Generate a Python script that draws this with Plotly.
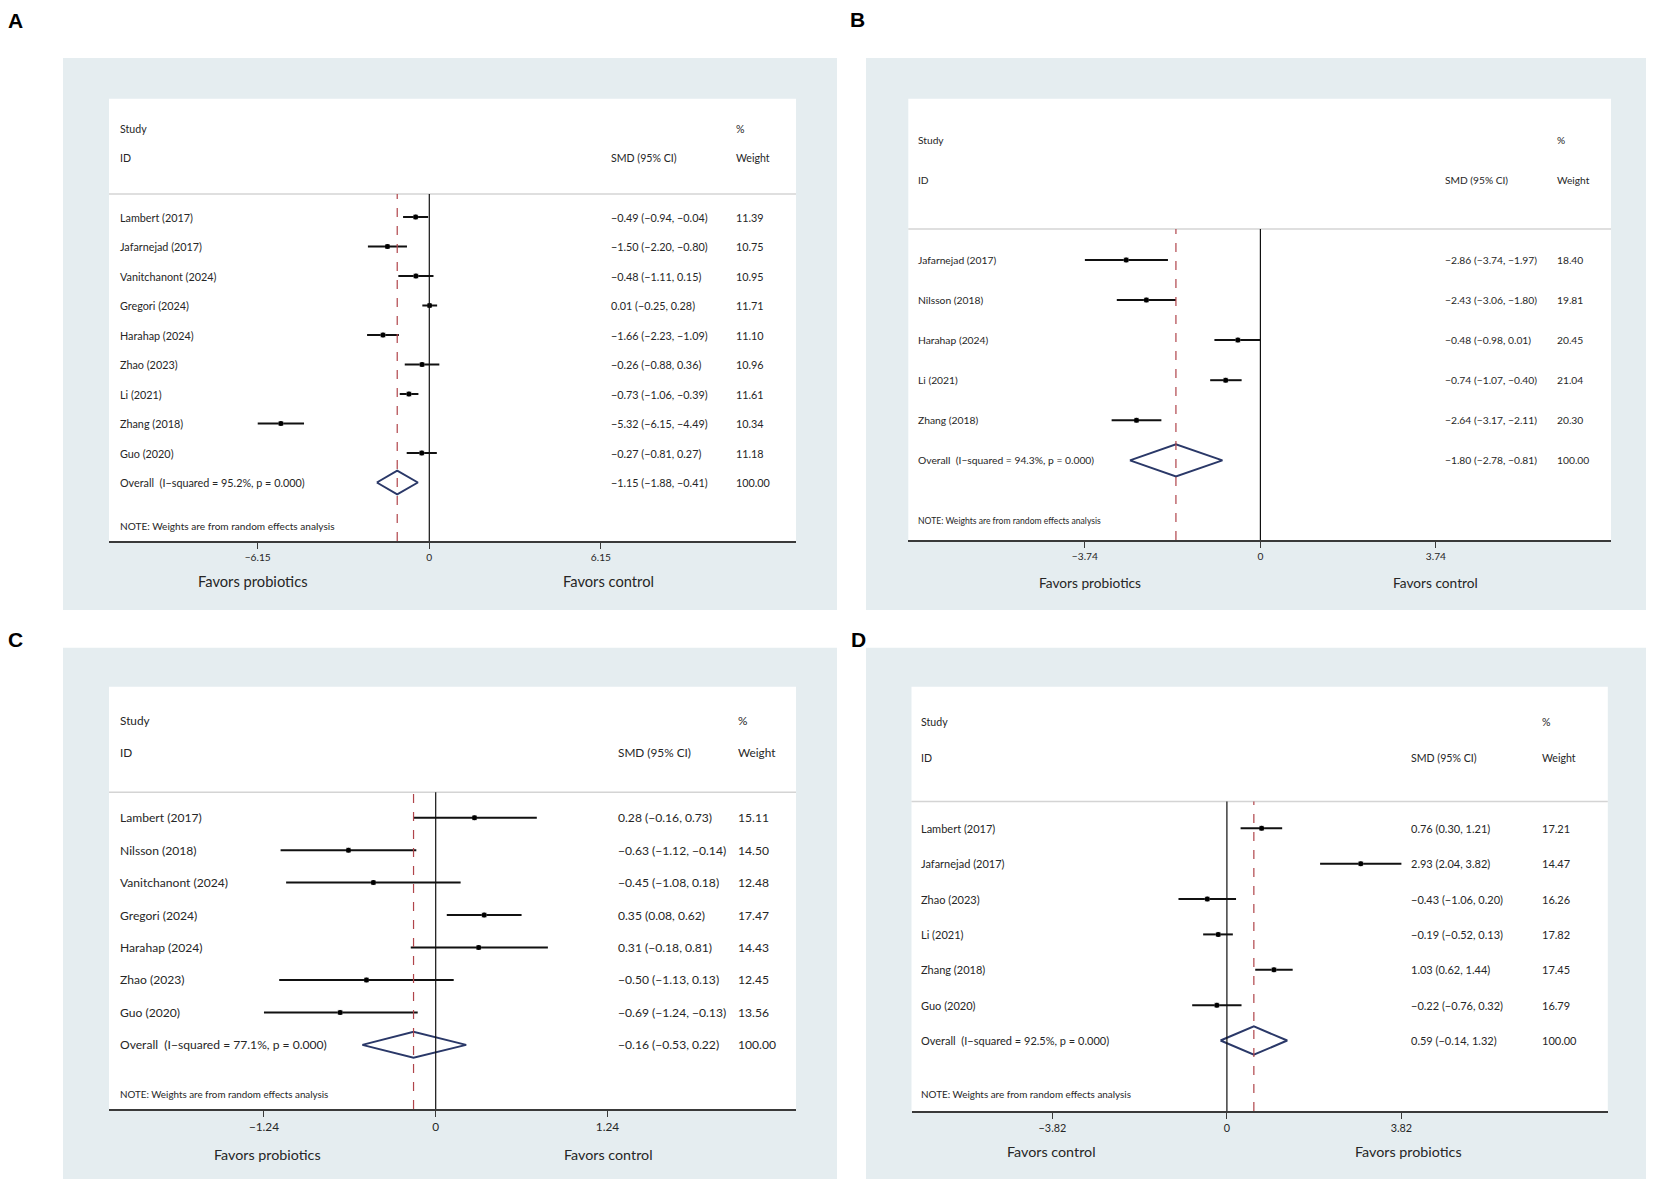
import plotly.graph_objects as go

W, H = 1654, 1185
OFF = 8  # default body margin of the html page
FW, FH = W - OFF, H - OFF

# ---------------- data ----------------
A_studies = ["Lambert (2017)", "Jafarnejad (2017)", "Vanitchanont (2024)", "Gregori (2024)",
             "Harahap (2024)", "Zhao (2023)", "Li (2021)", "Zhang (2018)", "Guo (2020)"]
A_smd = [-0.49, -1.50, -0.48, 0.01, -1.66, -0.26, -0.73, -5.32, -0.27]
A_lo = [-0.94, -2.20, -1.11, -0.25, -2.23, -0.88, -1.06, -6.15, -0.81]
A_hi = [-0.04, -0.80, 0.15, 0.28, -1.09, 0.36, -0.39, -4.49, 0.27]
A_w = [11.39, 10.75, 10.95, 11.71, 11.10, 10.96, 11.61, 10.34, 11.18]
A_overall = [-1.15, -1.88, -0.41]
A_i2 = "95.2%"
A_ticks = [-6.15, 0, 6.15]
A_favors = ["Favors probiotics", "Favors control"]

B_studies = ["Jafarnejad (2017)", "Nilsson (2018)", "Harahap (2024)", "Li (2021)", "Zhang (2018)"]
B_smd = [-2.86, -2.43, -0.48, -0.74, -2.64]
B_lo = [-3.74, -3.06, -0.98, -1.07, -3.17]
B_hi = [-1.97, -1.80, 0.01, -0.40, -2.11]
B_w = [18.40, 19.81, 20.45, 21.04, 20.30]
B_overall = [-1.80, -2.78, -0.81]
B_i2 = "94.3%"
B_ticks = [-3.74, 0, 3.74]
B_favors = ["Favors probiotics", "Favors control"]

C_studies = ["Lambert (2017)", "Nilsson (2018)", "Vanitchanont (2024)", "Gregori (2024)",
             "Harahap (2024)", "Zhao (2023)", "Guo (2020)"]
C_smd = [0.28, -0.63, -0.45, 0.35, 0.31, -0.50, -0.69]
C_lo = [-0.16, -1.12, -1.08, 0.08, -0.18, -1.13, -1.24]
C_hi = [0.73, -0.14, 0.18, 0.62, 0.81, 0.13, -0.13]
C_w = [15.11, 14.50, 12.48, 17.47, 14.43, 12.45, 13.56]
C_overall = [-0.16, -0.53, 0.22]
C_i2 = "77.1%"
C_ticks = [-1.24, 0, 1.24]
C_favors = ["Favors probiotics", "Favors control"]

D_studies = ["Lambert (2017)", "Jafarnejad (2017)", "Zhao (2023)", "Li (2021)", "Zhang (2018)", "Guo (2020)"]
D_smd = [0.76, 2.93, -0.43, -0.19, 1.03, -0.22]
D_lo = [0.30, 2.04, -1.06, -0.52, 0.62, -0.76]
D_hi = [1.21, 3.82, 0.20, 0.13, 1.44, 0.32]
D_w = [17.21, 14.47, 16.26, 17.82, 17.45, 16.79]
D_overall = [0.59, -0.14, 1.32]
D_i2 = "92.5%"
D_ticks = [-3.82, 0, 3.82]
D_favors = ["Favors control", "Favors probiotics"]

# ---------------- layout geometry (pixels in the final page) ----------------
FS = 1.0  # font scale
panels = [
    dict(letter="A", lx=15, ly=21, bg=(63, 58, 837, 610), box=(109, 98.7, 796, 541),
         zero=429.3, ppu=27.9, row0=217, sp=29.5, sep=194, study_y=129, id_y=158,
         note_y=526, fav_y=581, fav_x=(253, 608), tx=117.5, smd_x=609, w_x=734,
         f_row=10.8, f_head=10.6, f_note=10.1, f_tick=10.2, f_fav=14.7,
         studies=A_studies, smd=A_smd, lo=A_lo, hi=A_hi, w=A_w, ov=A_overall, i2=A_i2,
         ticks=A_ticks, favors=A_favors),
    dict(letter="B", lx=857, ly=19, bg=(866, 58, 1648, 610), box=(908.3, 98.7, 1611, 540),
         zero=1260.4, ppu=46.93, row0=259.9, sp=40.1, sep=229, study_y=139.7, id_y=179.5,
         note_y=520.5, fav_y=583, fav_x=(1090, 1435.4), tx=916, smd_x=1443.4, w_x=1554.6,
         f_row=10.3, f_head=10.2, f_note=8.6, f_tick=10.2, f_fav=13.7,
         studies=B_studies, smd=B_smd, lo=B_lo, hi=B_hi, w=B_w, ov=B_overall, i2=B_i2,
         ticks=B_ticks, favors=B_favors),
    dict(letter="C", lx=16, ly=639, bg=(63, 647.7, 837, 1179), box=(109, 686.8, 796, 1109),
         zero=435.7, ppu=138.5, row0=817.7, sp=32.45, sep=792.3, study_y=720, id_y=752.4,
         note_y=1094, fav_y=1154, fav_x=(267.3, 608.8), tx=117.5, smd_x=615.7, w_x=735.8,
         f_row=12.1, f_head=11.8, f_note=9.8, f_tick=11.8, f_fav=14.3,
         studies=C_studies, smd=C_smd, lo=C_lo, hi=C_hi, w=C_w, ov=C_overall, i2=C_i2,
         ticks=C_ticks, favors=C_favors),
    dict(letter="D", lx=858, ly=639, bg=(866, 647.7, 1648, 1179), box=(911.5, 686.8, 1607.8, 1111),
         zero=1226.9, ppu=45.68, row0=828.3, sp=35.37, sep=801.4, study_y=722.4, id_y=758.1,
         note_y=1093.6, fav_y=1151.7, fav_x=(1051.9, 1408.3), tx=918.9, smd_x=1409.4, w_x=1539.7,
         f_row=11, f_head=10.6, f_note=9.9, f_tick=10.8, f_fav=14.3,
         studies=D_studies, smd=D_smd, lo=D_lo, hi=D_hi, w=D_w, ov=D_overall, i2=D_i2,
         ticks=D_ticks, favors=D_favors),
]

FONT = "Lato, Open Sans, sans-serif"
BG = "#e5edf0"
TXT = "#262626"


def px(x):
    return (x - OFF) / FW


def py(y):
    return 1 - (y - OFF) / FH


def fmt(v):
    return f"{v:.2f}".replace("-", "\u2212")


def fmt_tick(v):
    if v == 0:
        return "0"
    return f"{v:.2f}".replace("-", "\u2212")


fig = go.Figure()
shapes = []
annotations = []
layout_axes = {}


def ann(text, x, y, yref, size, xanchor="left"):
    annotations.append(dict(text=text, x=x, y=y, xref="paper", yref=yref,
                            xanchor=xanchor, yanchor="middle", showarrow=False,
                            font=dict(family=FONT, size=size * FS, color=TXT)))


for k, p in enumerate(panels, start=1):
    xa = "x" if k == 1 else f"x{k}"
    ya = "y" if k == 1 else f"y{k}"
    xname = "xaxis" if k == 1 else f"xaxis{k}"
    yname = "yaxis" if k == 1 else f"yaxis{k}"
    n = len(p["studies"])
    L, T, R, Bt = p["box"]

    # axes
    xr = [(L - p["zero"]) / p["ppu"], (R - p["zero"]) / p["ppu"]]
    yr = [(Bt - p["row0"]) / p["sp"], (T - p["row0"]) / p["sp"]]
    layout_axes[xname] = dict(
        domain=[px(L), px(R)], range=xr, anchor=ya, showgrid=False, zeroline=False,
        showline=True, linecolor="#3a3a3a", linewidth=2.2, ticks="outside", ticklen=6,
        tickwidth=1.2, tickcolor="#3a3a3a", tickvals=p["ticks"],
        ticktext=[fmt_tick(t) for t in p["ticks"]],
        tickfont=dict(family=FONT, size=p["f_tick"] * FS, color=TXT), fixedrange=True)
    layout_axes[yname] = dict(
        domain=[py(Bt), py(T)], range=yr, anchor=xa, visible=False, fixedrange=True)

    # backgrounds
    x0, y0, x1, y1 = p["bg"]
    shapes.append(dict(type="rect", xref="paper", yref="paper", x0=px(x0), x1=px(x1),
                       y0=py(y1), y1=py(y0), fillcolor=BG, line=dict(width=0), layer="below"))
    shapes.append(dict(type="rect", xref="paper", yref="paper", x0=px(L), x1=px(R),
                       y0=py(Bt), y1=py(T), fillcolor="white", line=dict(width=0), layer="below"))
    # header separator
    shapes.append(dict(type="line", xref="paper", yref="paper", x0=px(L), x1=px(R),
                       y0=py(p["sep"]), y1=py(p["sep"]), line=dict(color="#d4d4d4", width=1.5)))
    # zero line
    shapes.append(dict(type="line", xref=xa, yref="paper", x0=0, x1=0,
                       y0=py(Bt), y1=py(p["sep"]), line=dict(color="#111111", width=1.2)))
    # overall dashed line
    shapes.append(dict(type="line", xref=xa, yref="paper", x0=p["ov"][0], x1=p["ov"][0],
                       y0=py(Bt), y1=py(p["sep"]),
                       line=dict(color="#b0444a", width=1.2, dash="dash")))

    # CI lines
    cx, cy = [], []
    for i in range(n):
        cx += [p["lo"][i], p["hi"][i], None]
        cy += [i, i, None]
    fig.add_trace(go.Scatter(x=cx, y=cy, mode="lines", line=dict(color="#111111", width=2),
                             xaxis=xa, yaxis=ya, showlegend=False, hoverinfo="skip"))
    # point estimates
    fig.add_trace(go.Scatter(x=p["smd"], y=list(range(n)), mode="markers",
                             marker=dict(symbol="square", size=5, color="#a0a0a0",
                                         line=dict(width=0)),
                             xaxis=xa, yaxis=ya, showlegend=False, hoverinfo="skip"))
    fig.add_trace(go.Scatter(x=p["smd"], y=list(range(n)), mode="markers",
                             marker=dict(symbol="circle", size=5, color="#000000"),
                             xaxis=xa, yaxis=ya, showlegend=False,
                             text=p["studies"], hoverinfo="text+x"))
    # overall diamond
    est, olo, ohi = p["ov"]
    h = 0.4
    fig.add_trace(go.Scatter(x=[olo, est, ohi, est, olo], y=[n, n - h, n, n + h, n],
                             mode="lines", line=dict(color="#2a3868", width=2),
                             xaxis=xa, yaxis=ya, showlegend=False, hoverinfo="skip"))

    # row texts
    for i in range(n):
        ann(p["studies"][i], px(p["tx"]), i, ya, p["f_row"])
        ann(f"{fmt(p['smd'][i])} ({fmt(p['lo'][i])}, {fmt(p['hi'][i])})", px(p["smd_x"]), i, ya, p["f_row"])
        ann(f"{p['w'][i]:.2f}", px(p["w_x"]), i, ya, p["f_row"])
    ann(f"Overall  (I\u2212squared = {p['i2']}, p = 0.000)", px(p["tx"]), n, ya, p["f_row"])
    ann(f"{fmt(est)} ({fmt(olo)}, {fmt(ohi)})", px(p["smd_x"]), n, ya, p["f_row"])
    ann("100.00", px(p["w_x"]), n, ya, p["f_row"])

    # headers
    ann("Study", px(p["tx"]), py(p["study_y"]), "paper", p["f_head"])
    ann("ID", px(p["tx"]), py(p["id_y"]), "paper", p["f_head"])
    ann("SMD (95% CI)", px(p["smd_x"]), py(p["id_y"]), "paper", p["f_head"])
    ann("%", px(p["w_x"]), py(p["study_y"]), "paper", p["f_head"])
    ann("Weight", px(p["w_x"]), py(p["id_y"]), "paper", p["f_head"])
    ann("NOTE: Weights are from random effects analysis", px(p["tx"]), py(p["note_y"]), "paper", p["f_note"])

    # favors labels
    for lab, fx in zip(p["favors"], p["fav_x"]):
        ann(lab, px(fx), py(p["fav_y"]), "paper", p["f_fav"], xanchor="center")

    # panel letter
    annotations.append(dict(text=f"<b>{p['letter']}</b>", x=px(p["lx"]), y=py(p["ly"]),
                            xref="paper", yref="paper", xanchor="center", yanchor="middle",
                            showarrow=False,
                            font=dict(family="Liberation Sans, Arial, sans-serif", size=21,
                                      color="#000000")))

fig.update_layout(
    width=FW, height=FH, margin=dict(l=0, r=0, t=0, b=0),
    paper_bgcolor="white", plot_bgcolor="rgba(0,0,0,0)",
    shapes=shapes, annotations=annotations, showlegend=False,
    **layout_axes,
)

fig.write_html("out.html")
